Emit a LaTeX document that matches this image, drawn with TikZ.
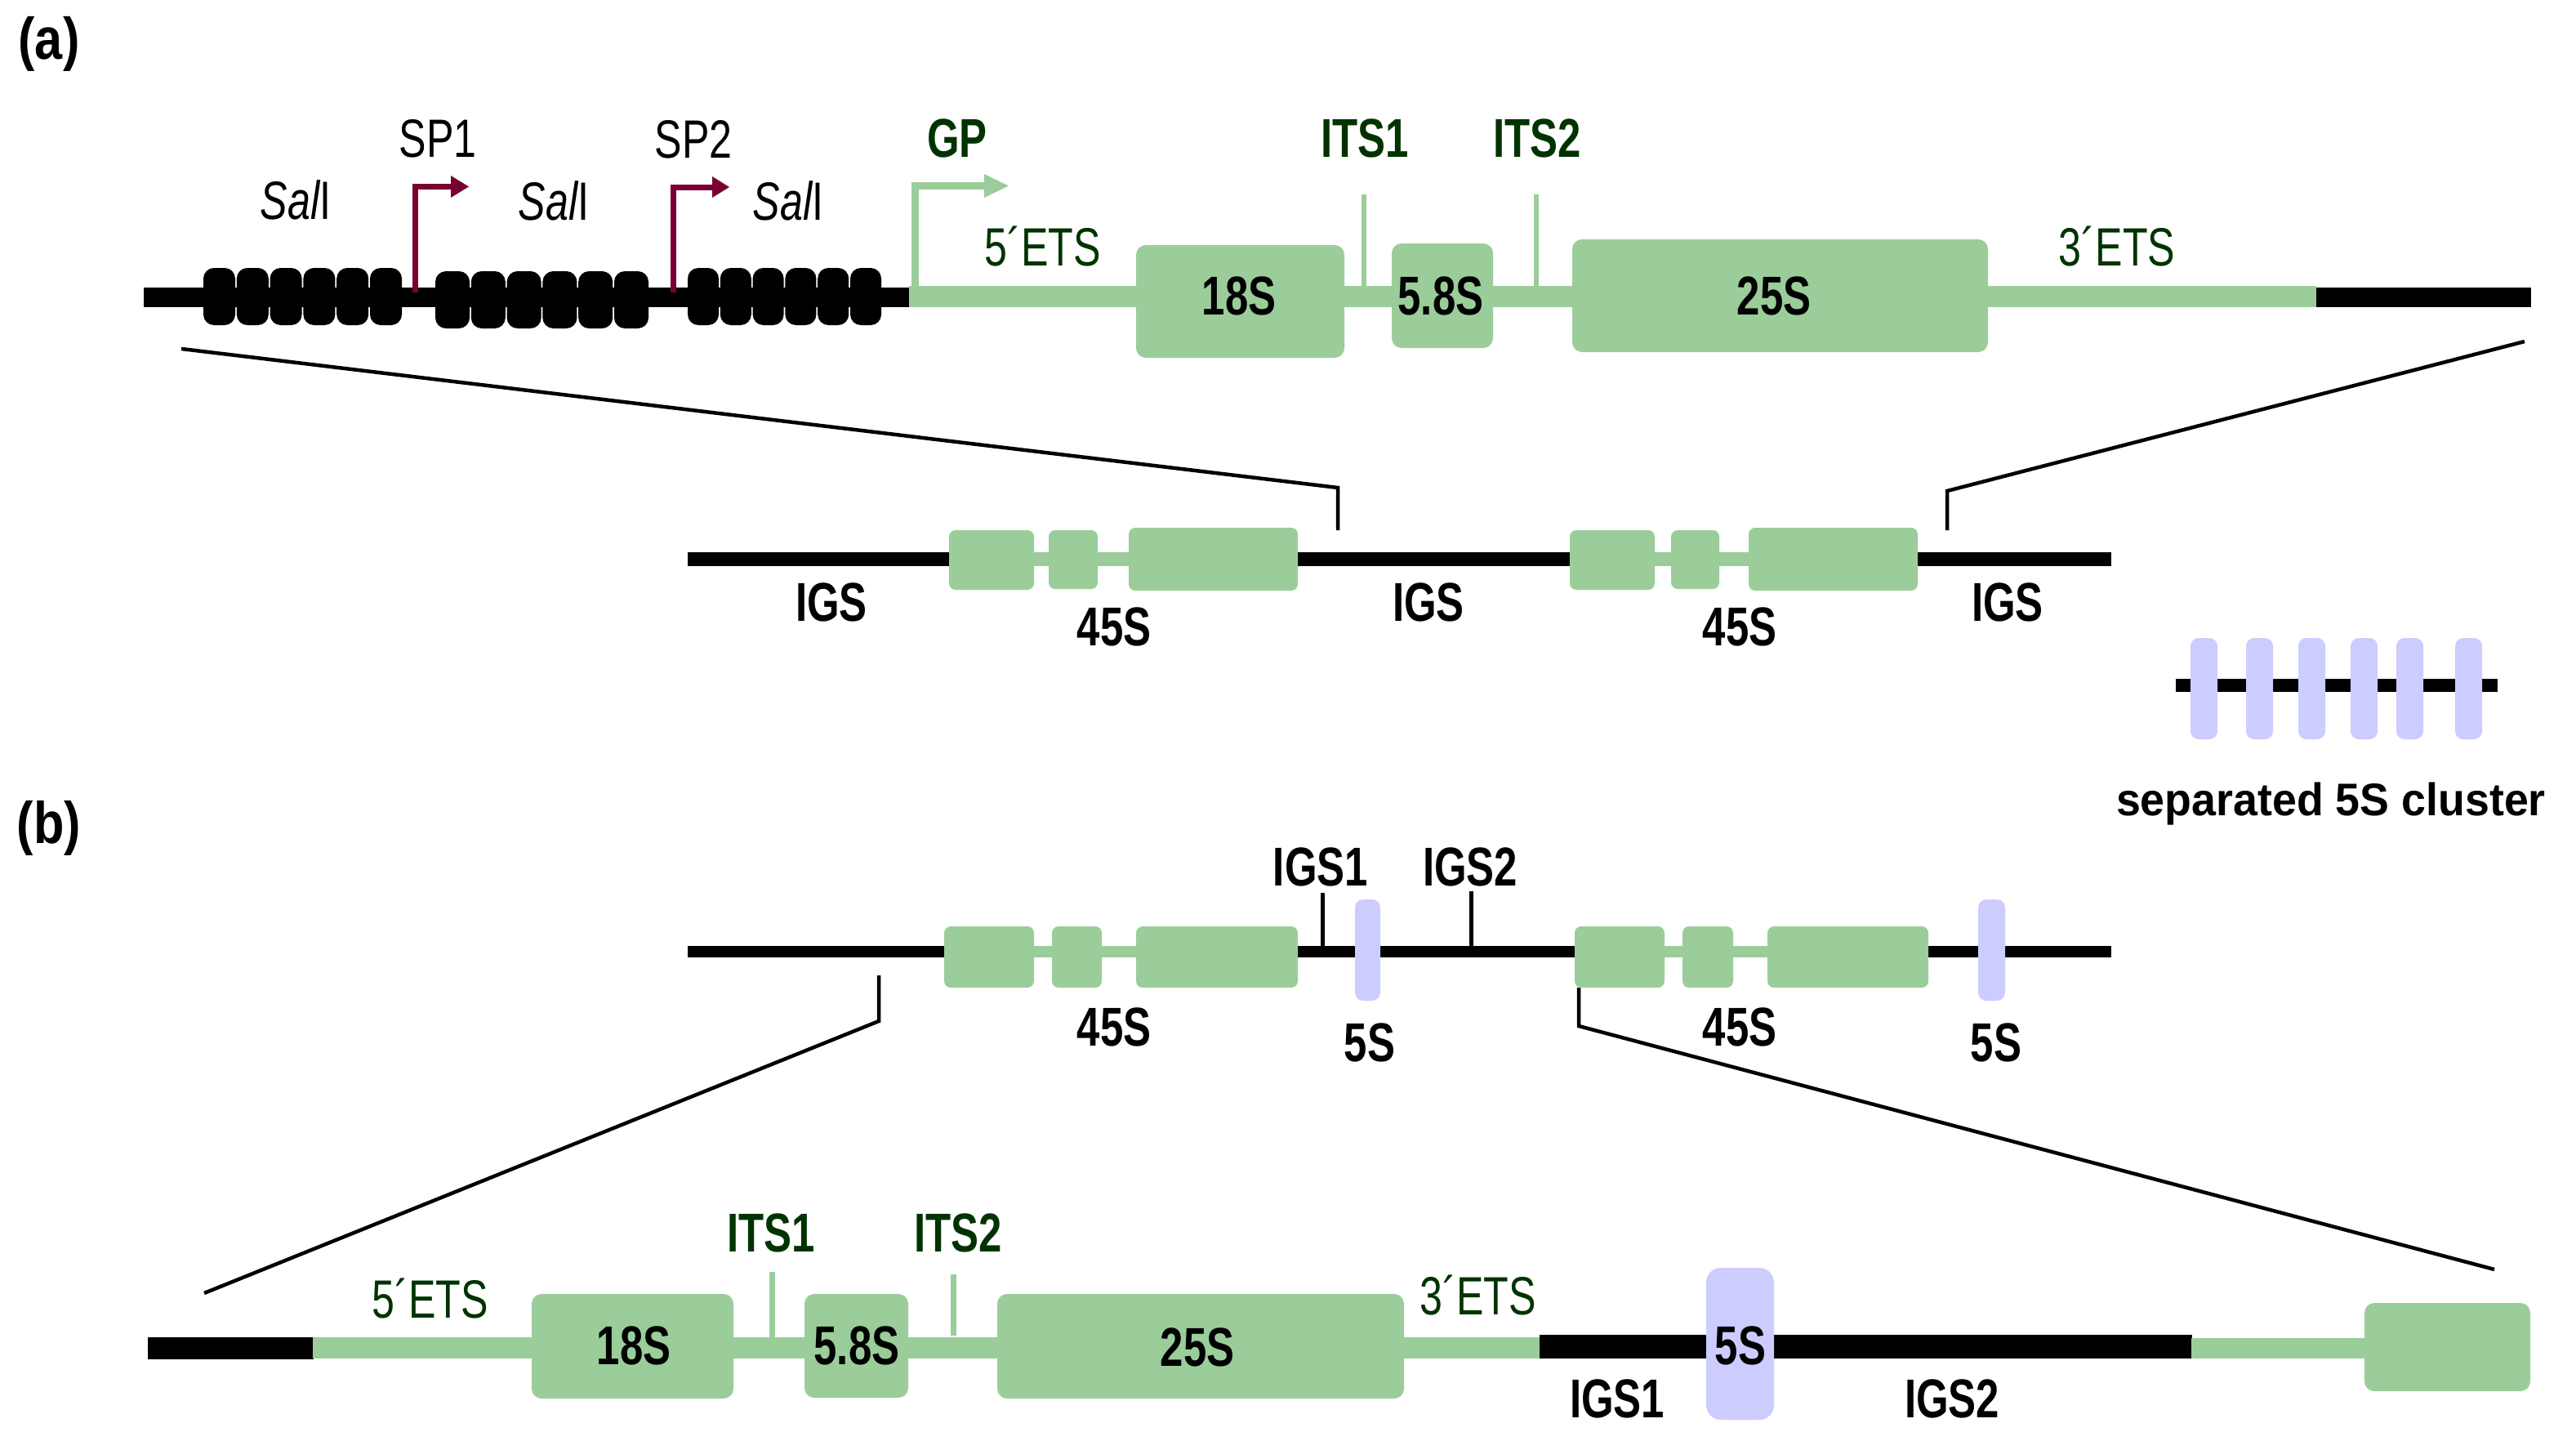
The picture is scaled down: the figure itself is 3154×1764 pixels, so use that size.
\documentclass[tikz,border=0pt]{standalone}
\usepackage{fontspec}
\setmainfont{Liberation Sans}[FakeStretch=0.76]
\newfontfamily\clusterfont{Liberation Sans}[FakeStretch=0.96]
\newfontfamily\panelfont{Liberation Sans}[FakeStretch=0.85]
\definecolor{rgreen}{RGB}{155,205,155}
\definecolor{dgreen}{RGB}{0,51,0}
\definecolor{fivesc}{RGB}{204,204,255}
\definecolor{spmaroon}{RGB}{122,0,51}
\tikzset{
  gbox/.style={fill=rgreen, rounded corners=12pt},
  sbox/.style={fill=rgreen, rounded corners=8pt},
  pbox/.style={fill=fivesc, rounded corners=10pt},
  bead/.style={fill=black, rounded corners=13pt},
  zoomline/.style={line width=4.5pt, black},
  blacktick/.style={line width=5pt, black},
  greentick/.style={line width=6pt, rgreen},
  lab/.style={inner sep=0pt, font=\fontsize{66}{70}\selectfont},
  blab/.style={inner sep=0pt, font=\fontsize{67}{70}\selectfont\bfseries},
  glab/.style={lab, text=dgreen},
  gblab/.style={blab, text=dgreen},
  plab/.style={inner sep=0pt, font=\fontsize{72}{76}\selectfont\panelfont\bfseries},
}
\begin{document}
\begin{tikzpicture}[x=1pt,y=-1pt]
\useasboundingbox (0,0) rectangle (3154,1764);
\fill[white] (0,0) rectangle (3154,1764);

% ---------------- panel (a) top ----------------
\node[plab] (pa) at (60,54) {(a)};
\fill (176,352) rectangle (1116,376);
\fill[rgreen] (1113,350) rectangle (2836,376);
\fill (2836,352) rectangle (3099,376);
% beads
\foreach \i in {0,...,5} \fill[bead] ({249+\i*40.8},328) rectangle ++(39,70);
\foreach \i in {0,...,5} \fill[bead] ({533+\i*43.8},332) rectangle ++(42,70);
\foreach \i in {0,...,5} \fill[bead] ({842+\i*39.8},328) rectangle ++(38,70);
% SP arrows
\draw[spmaroon, line width=7pt, line join=miter] (508,358) -- (508,228.5) -- (553,228.5);
\fill[spmaroon] (552,215) -- (574,228.5) -- (552,242) -- cycle;
\draw[spmaroon, line width=7pt, line join=miter] (824,358) -- (824,229) -- (873,229);
\fill[spmaroon] (872,216) -- (893,229) -- (872,242) -- cycle;
% GP arrow
\draw[rgreen, line width=9pt, line join=miter] (1120,352) -- (1120,227) -- (1207,227);
\fill[rgreen] (1205,213) -- (1235,227.5) -- (1205,242) -- cycle;
% ITS ticks
\draw[greentick] (1670,238) -- (1670,352);
\draw[greentick] (1881,238) -- (1881,350);
% rRNA boxes
\fill[gbox] (1391,300) rectangle (1646,438);
\fill[gbox] (1704,298) rectangle (1828,426);
\fill[gbox] (1925,293) rectangle (2434,431);
% labels
\node[lab] (sp1) at (536,170) {SP1};
\node[lab] (sp2) at (849,171) {SP2};
\node[lab] (sal1) at (362,245) {\itshape Sal\upshape I};
\node[lab] (sal2) at (678,246) {\itshape Sal\upshape I};
\node[lab] (sal3) at (965,246) {\itshape Sal\upshape I};
\node[gblab] (gp) at (1172,169) {GP};
\node[gblab] (its1a) at (1671,169) {ITS1};
\node[gblab] (its2a) at (1882,169) {ITS2};
\node[glab] (ets5a) at (1277,302) {5´ETS};
\node[glab] (ets3a) at (2592,302) {3´ETS};
\node[blab] (r18a) at (1517,362) {18S};
\node[blab] (r58a) at (1764,362) {5.8S};
\node[blab] (r25a) at (2172,362) {25S};

% ---------------- panel (a) lower ----------------
\coordinate (zlA) at (222,427);
\coordinate (zlAk) at (1638,597);
\coordinate (zlAe) at (1638,649);
\coordinate (zrA) at (3091,418);
\coordinate (zrAk) at (2384,601);
\coordinate (zrAe) at (2384,649);
\draw[zoomline, line join=miter] (zlA) -- (zlAk) -- (zlAe);
\draw[zoomline, line join=miter] (zrA) -- (zrAk) -- (zrAe);
\fill (842,676) rectangle (2585,693);
\fill[rgreen] (1162,676) rectangle (1589,693);
\fill[rgreen] (1922,676) rectangle (2348,693);
\fill[sbox] (1162,649) rectangle (1266,722);
\fill[sbox] (1284,649) rectangle (1344,721);
\fill[sbox] (1382,646) rectangle (1589,723);
\fill[sbox] (1922,649) rectangle (2026,722);
\fill[sbox] (2046,649) rectangle (2105,721);
\fill[sbox] (2141,646) rectangle (2348,723);
\node[blab] (igs1) at (1018,737) {IGS};
\node[blab] (igs2) at (1749,737) {IGS};
\node[blab] (igs3) at (2458,737) {IGS};
\node[blab] (f45a) at (1364,767) {45S};
\node[blab] (f45b) at (2130,767) {45S};

% separated 5S cluster
\fill (2664,831) rectangle (3058,847);
\foreach \xx in {2682,2750,2814,2878,2934,3006} \fill[pbox] (\xx,781) rectangle ++(33,124);
\node[inner sep=0pt, font=\fontsize{56}{60}\selectfont\clusterfont\bfseries] (clus) at (2854,984) {separated 5S cluster};

% ---------------- panel (b) middle ----------------
\node[plab] (pb) at (60,1014) {(b)};
\fill (842,1158) rectangle (2585,1172);
\fill[rgreen] (1156,1158) rectangle (1589,1172);
\fill[rgreen] (1928,1158) rectangle (2361,1172);
\fill[sbox] (1156,1134) rectangle (1266,1209);
\fill[sbox] (1288,1134) rectangle (1349,1209);
\fill[sbox] (1391,1134) rectangle (1589,1209);
\fill[sbox] (1928,1134) rectangle (2038,1209);
\fill[sbox] (2060,1134) rectangle (2122,1209);
\fill[sbox] (2164,1134) rectangle (2361,1209);
\fill[pbox] (1659,1101) rectangle (1690,1225);
\fill[pbox] (2422,1101) rectangle (2455,1225);
\draw[blacktick] (1619,1093) -- (1619,1162);
\draw[blacktick] (1801,1091) -- (1801,1162);
\node[blab] (bigs1) at (1617,1061) {IGS1};
\node[blab] (bigs2) at (1800,1061) {IGS2};
\node[blab] (b45a) at (1364,1257) {45S};
\node[blab] (b45b) at (2130,1257) {45S};
\node[blab] (b5sa) at (1677,1276) {5S};
\node[blab] (b5sb) at (2444,1276) {5S};
\coordinate (zlB) at (1076,1194);
\coordinate (zlBk) at (1076,1250);
\coordinate (zlBe) at (250,1583);
\coordinate (zrB) at (1933,1209);
\coordinate (zrBk) at (1933,1256);
\coordinate (zrBe) at (3054,1554);
\draw[zoomline, line join=miter] (zlB) -- (zlBk) -- (zlBe);
\draw[zoomline, line join=miter] (zrB) -- (zrBk) -- (zrBe);

% ---------------- panel (b) bottom ----------------
\fill (181,1637) rectangle (384,1664);
\fill[rgreen] (383,1637) rectangle (1886,1663);
\fill (1885,1634) rectangle (2684,1663);
\fill[rgreen] (2683,1638) rectangle (2895,1663);
\draw[greentick, line width=7pt] (945,1557) -- (945,1637);
\draw[greentick, line width=7pt] (1167,1560) -- (1167,1635);
\fill[gbox] (651,1584) rectangle (898,1712);
\fill[gbox] (985,1584) rectangle (1112,1711);
\fill[gbox] (1221,1584) rectangle (1719,1712);
\fill[gbox] (2895,1595) rectangle (3098,1703);
\fill[pbox, rounded corners=18pt] (2089,1552) rectangle (2172,1738);
\node[glab] (ets5b) at (527,1590) {5´ETS};
\node[glab] (ets3b) at (1810,1586) {3´ETS};
\node[gblab] (its1b) at (944,1509) {ITS1};
\node[gblab] (its2b) at (1173,1509) {ITS2};
\node[blab] (r18b) at (776,1647) {18S};
\node[blab] (r58b) at (1049,1647) {5.8S};
\node[blab] (r25b) at (1466,1649) {25S};
\node[blab] (r5sb) at (2131,1647) {5S};
\node[blab] (cigs1) at (1980,1712) {IGS1};
\node[blab] (cigs2) at (2390,1712) {IGS2};
\end{tikzpicture}
\end{document}
